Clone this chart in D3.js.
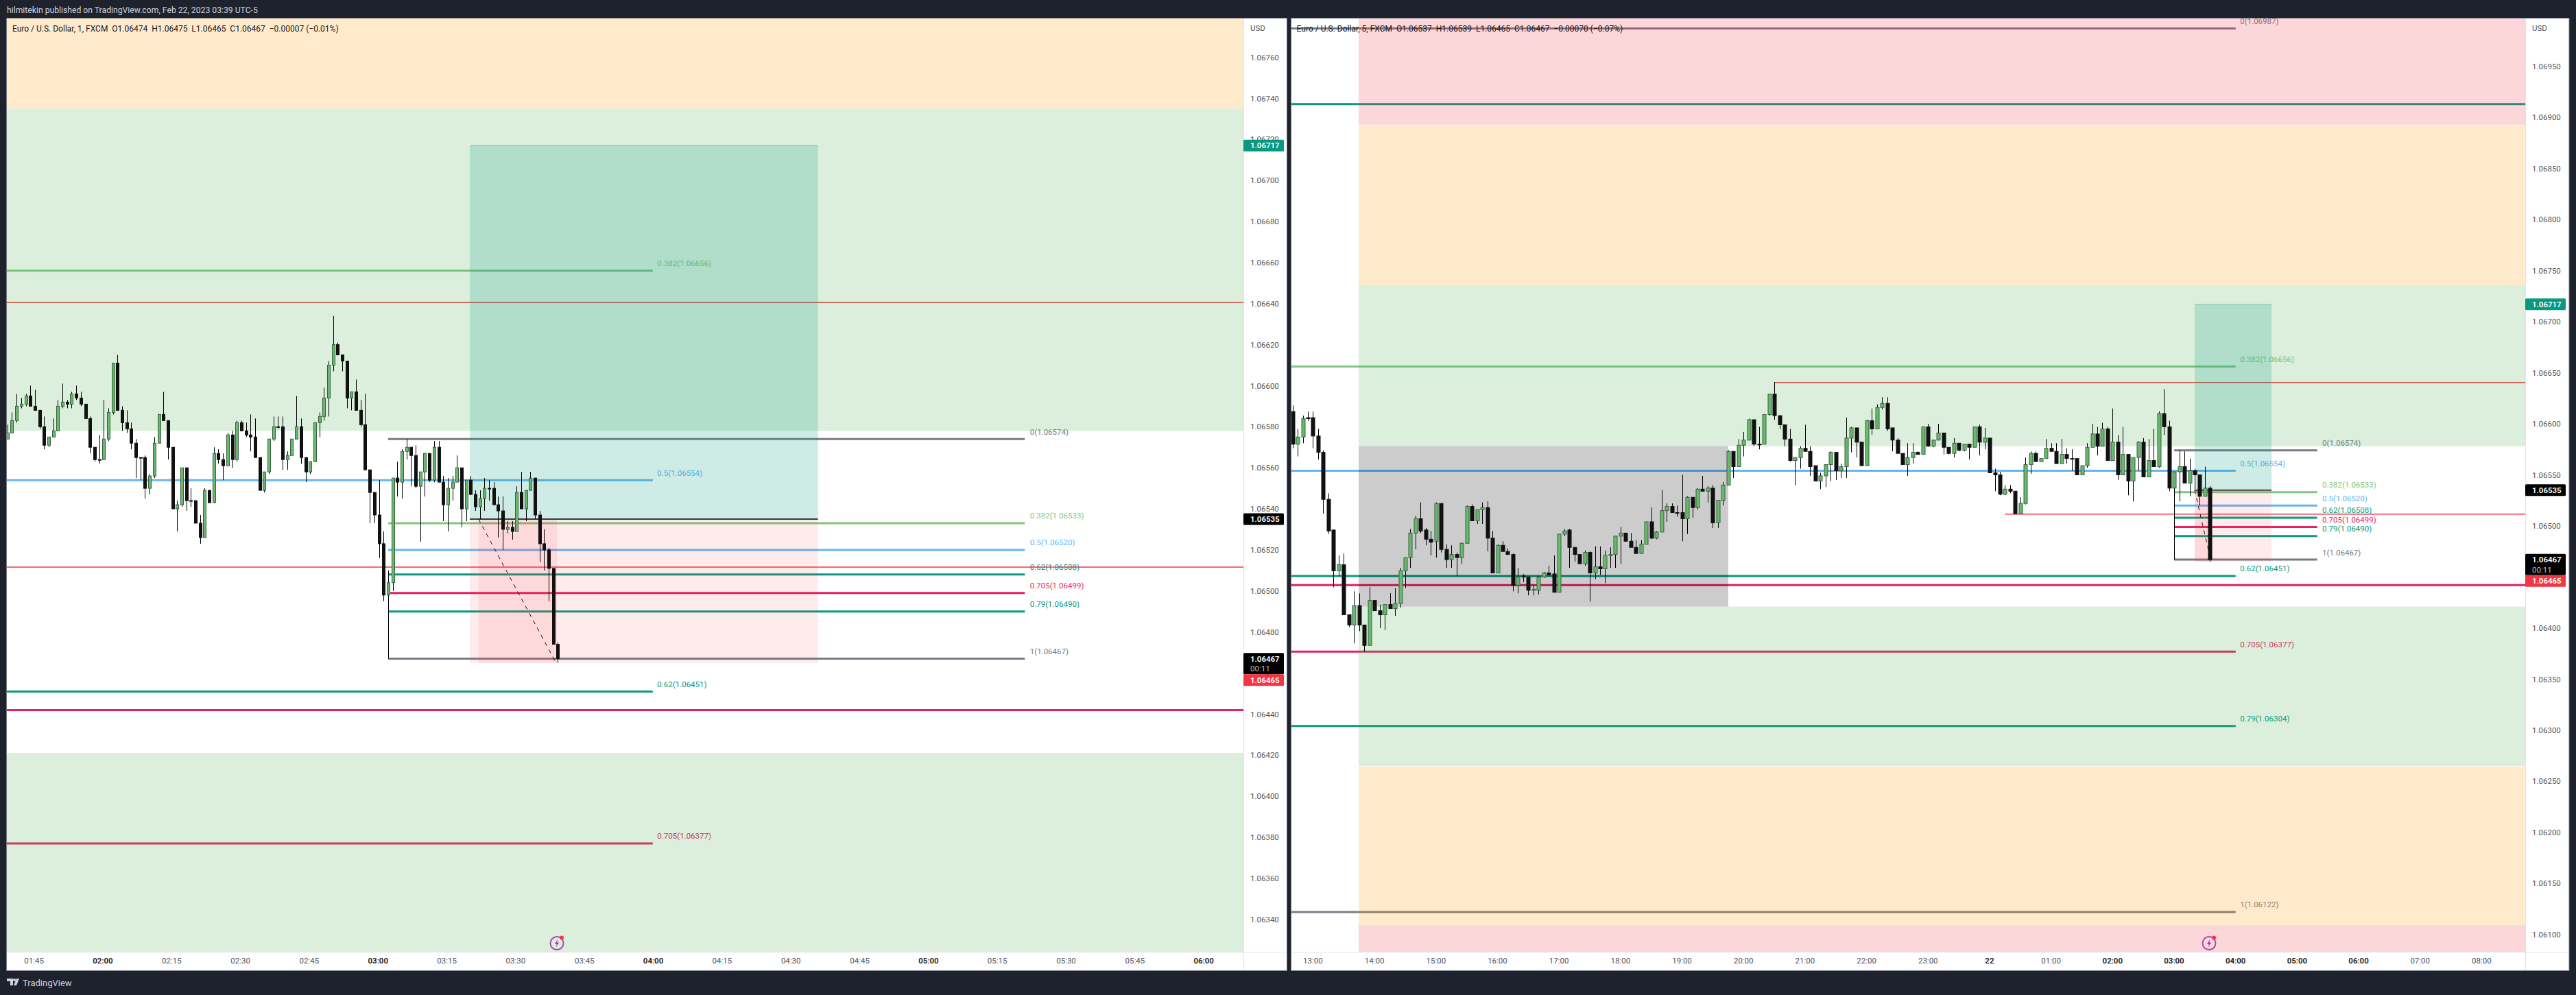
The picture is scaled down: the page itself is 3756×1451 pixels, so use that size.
<!DOCTYPE html>
<html><head><meta charset="utf-8">
<script src="https://cdn.jsdelivr.net/npm/d3@7"></script>
<style>html,body{margin:0;padding:0;background:#1e222d}svg{display:block}</style>
</head><body><svg id="c" width="3756" height="1451"></svg>
<script>
// Prices are stored as 1/100000 above 1.06000
const leftOpen=[574,577,583,590,591,595,590,588,580,571,575,578,590,592,591,596,594,591,584,570,564,564,574,587,611,588,582,579,572,565,565,550,556,572,586,583,570,540,542,560,544,544,533,526,549,543,567,564,561,576,564,582,578,576,575,565,549,558,574,580,580,564,566,574,580,565,558,563,582,585,594,610,620,615,612,594,597,588,581,559,548,537,523,498,504,555,553,568,570,566,551,558,567,554,570,553,542,550,553,560,540,554,547,541,545,550,550,542,539,530,531,529,548,540,549,555,537,523,520,511,474];
const leftHigh=[581,587,596,594,596,600,598,588,585,575,584,593,601,593,597,600,597,591,585,570,576,593,589,611,615,590,588,582,574,565,566,557,575,586,597,583,570,544,560,560,550,544,537,550,549,570,569,567,577,578,583,583,582,586,584,565,558,574,585,585,585,568,574,595,584,565,563,582,587,599,612,634,621,615,612,597,603,593,596,559,548,554,529,510,555,563,569,574,570,571,558,567,567,573,573,556,555,556,566,560,554,556,549,549,555,554,553,546,546,534,534,551,558,549,558,555,539,530,521,511,475];
const leftLow=[574,577,582,589,590,590,588,579,569,570,575,578,589,589,589,593,590,584,567,563,562,564,573,586,588,578,577,569,555,554,545,547,555,572,583,564,540,529,541,539,541,533,523,526,543,543,562,554,561,560,563,578,575,568,565,549,548,557,573,579,559,559,566,574,562,553,557,563,575,583,585,607,615,607,589,588,588,580,559,533,533,516,495,467,500,546,545,564,551,550,524,546,553,553,553,534,529,544,553,531,534,547,539,535,539,544,542,526,520,528,525,529,540,534,549,535,514,510,495,474,465];
const leftClose=[577,583,590,591,595,590,588,580,571,575,578,590,592,591,596,594,591,584,570,564,564,574,587,611,588,582,579,572,565,565,550,556,572,586,583,570,540,542,560,544,544,533,526,549,543,567,564,561,576,564,582,578,576,575,565,549,558,574,580,580,564,566,574,580,565,558,563,582,585,594,610,620,615,612,594,597,588,581,559,548,537,523,498,504,555,553,568,570,566,551,558,567,554,570,553,542,550,553,560,540,554,547,541,545,550,550,542,539,530,531,529,548,540,549,555,537,523,520,511,474,467];

const rightOpen=[612,580,587,606,606,588,572,526,496,456,462,413,403,422,403,383,427,417,413,423,419,424,456,469,493,507,496,487,485,522,477,467,472,469,483,519,505,516,518,488,454,481,475,472,442,451,450,437,437,450,454,453,435,492,496,479,472,463,474,454,460,458,471,472,490,493,485,479,473,482,504,488,494,515,519,513,513,507,528,518,536,534,537,503,525,540,573,558,579,584,604,580,580,609,629,608,599,585,564,567,576,573,559,544,549,560,572,554,558,586,596,582,559,603,595,616,620,596,584,571,560,567,572,570,597,578,584,591,577,571,581,574,580,577,597,582,586,552,550,531,536,534,512,522,560,571,563,566,576,573,561,570,566,566,550,559,577,590,578,595,564,582,550,570,544,567,582,548,564,558,610,597,537,553,558,542,554,550,529,537];
const rightHigh=[618,595,608,612,612,595,574,532,496,471,473,413,436,434,403,440,427,423,423,434,439,459,469,497,510,523,498,495,523,522,482,481,474,484,520,521,516,523,524,495,482,485,478,473,459,453,450,442,451,455,461,471,492,497,497,479,472,476,475,480,480,476,479,490,499,493,493,486,486,504,518,495,535,522,522,520,550,529,528,537,549,539,540,525,543,574,573,585,592,605,604,597,609,629,641,608,599,595,567,578,599,578,559,552,560,573,572,561,606,597,596,582,604,615,619,626,626,596,586,571,581,581,573,597,600,584,600,591,577,586,581,580,580,597,599,596,586,556,553,540,540,534,528,567,573,573,566,585,581,581,585,576,575,566,559,581,600,597,601,597,615,589,597,570,567,583,586,585,595,612,634,603,553,574,573,566,556,550,558,539];
const rightLow=[576,568,581,603,576,565,512,492,440,451,413,401,385,397,377,383,417,400,398,419,412,420,439,459,477,493,481,471,469,474,459,459,451,463,483,505,502,502,475,454,454,475,472,436,434,445,432,432,433,449,452,435,435,490,459,465,463,461,426,448,452,444,459,459,463,485,479,473,473,482,487,487,494,504,513,509,485,492,508,516,534,523,498,498,520,540,547,558,568,584,578,575,580,608,604,595,578,563,540,556,573,549,544,536,538,544,545,547,547,572,567,559,559,589,595,614,593,573,571,560,549,561,570,570,578,577,584,570,570,567,573,573,565,577,569,575,552,534,530,530,532,512,512,521,551,563,563,566,573,561,561,561,554,550,550,557,577,569,578,564,564,545,550,530,524,554,548,548,558,557,589,534,467,524,542,529,536,520,529,465];
const rightClose=[580,587,605,605,588,572,526,495,456,462,413,403,422,403,383,427,417,413,423,419,424,456,469,493,507,495,487,484,522,477,467,472,469,483,519,505,516,518,488,454,481,475,472,442,450,450,437,438,450,454,452,435,492,495,479,472,463,474,454,460,458,471,472,490,493,485,479,473,482,504,488,494,515,519,513,513,507,528,518,536,534,537,503,525,540,573,558,579,584,604,580,580,609,629,608,599,585,564,567,576,573,558,544,549,560,572,554,558,586,596,582,559,603,595,616,620,595,584,571,560,567,572,570,597,578,584,591,577,571,581,574,580,577,597,582,586,552,550,531,536,534,512,522,560,571,563,566,576,573,561,570,566,566,550,559,577,590,578,595,564,582,550,570,544,567,582,548,564,558,610,597,537,553,558,542,554,550,529,537,467];

const leftPriceTicks=d3.range(340,761,20);
const rightPriceTicks=d3.range(100,951,50);
const leftTimeLabels=["01:45","02:00","02:15","02:30","02:45","03:00","03:15","03:30","03:45","04:00","04:15","04:30","04:45","05:00","05:15","05:30","05:45","06:00"];
const rightTimeLabels=["13:00","14:00","15:00","16:00","17:00","18:00","19:00","20:00","21:00","22:00","23:00","22","01:00","02:00","03:00","04:00","05:00","06:00","07:00","08:00"];
const boldTimes=["02:00","03:00","04:00","05:00","06:00","22"];

const zoneHigh=[1100,892,735,421,264.5,109];
const zoneLow=[892.6,735,578,265,109,0];
const zoneKind=["pink","orange","green","green","orange","pink"];

const weeklyFibPrices=[987,656,554,451,377,304,122];
const weeklyFibLabels=["0(1.06987)","0.382(1.06656)","0.5(1.06554)","0.62(1.06451)","0.705(1.06377)","0.79(1.06304)","1(1.06122)"];
const weeklyFibKinds=["grey","green","blue","teal","pink","teal","grey"];
const dailyFibPrices=[574,533,520,508,499,490,467];
const dailyFibLabels=["0(1.06574)","0.382(1.06533)","0.5(1.06520)","0.62(1.06508)","0.705(1.06499)","0.79(1.06490)","1(1.06467)"];
const dailyFibKinds=["grey","green","blue","teal","pink","teal","grey"];
const positionTarget=717, positionEntry=535, positionStop=465;
const pinkLevel=442, tealLevel=913, redHigh=640.5, redLow=511.6;
const grayBoxHigh=578, grayBoxLow=421;

const kindColor={grey:"#787b86",green:"#81c784",blue:"#64b5f6",teal:"#089981",pink:"#e91e63"};
const zoneColor={pink:"rgba(242,54,69,.2)",orange:"rgba(255,152,0,.2)",green:"rgba(76,175,80,.2)"};
const FONT="Roboto, sans-serif";

const px=n=>1.06+n/1e5;
const svg=d3.select("#c").attr("font-family",FONT);
svg.append("rect").attr("width",3756).attr("height",1451).attr("fill","#1e222d");

let clipId=0;
function pane(o){
  const g=svg.append("g");
  const W=o.plotR-o.plotL;
  // pane frame
  g.append("rect").attr("x",o.plotL-.5).attr("y",26.5).attr("width",o.outerR-o.plotL+1).attr("height",1389)
    .attr("fill","#fff").attr("stroke","#787b86").attr("stroke-width",1);
  const y=d3.scaleLinear().domain(o.yDomain).range(o.yRange);
  const x=d3.scaleLinear().domain([0,o.n-1]).range(o.xRange);
  const id="clip"+(clipId++);
  g.append("clipPath").attr("id",id).append("rect").attr("x",o.plotL).attr("y",27).attr("width",W).attr("height",1361);
  const p=g.append("g").attr("clip-path",`url(#${id})`);
  const Y=n=>y(px(n));

  // horizontal levels, their labels sit under the translucent zones
  const lines=p.append("g");
  const seg=(n,a,b,c,w)=>lines.append("line").attr("x1",a).attr("x2",b).attr("y1",Y(n)).attr("y2",Y(n)).attr("stroke",c).attr("stroke-width",w);
  const label=(t,xx,n,c)=>{
    const ty=Y(n)-10.6;
    if(ty<24||ty>1384) return;
    lines.append("text").text(t).attr("x",xx).attr("y",ty).attr("dy",".35em").attr("font-size",11.5).attr("fill",c);
  };
  weeklyFibPrices.forEach((n,i)=>{
    const c=kindColor[weeklyFibKinds[i]];
    if(Y(n)<27||Y(n)>1388) return;
    seg(n,o.plotL,x(o.weeklyEnd),c,3);
    label(weeklyFibLabels[i],x(o.weeklyEnd)+6.5,n,c);
  });
  dailyFibPrices.forEach((n,i)=>{
    const c=kindColor[dailyFibKinds[i]];
    seg(n,x(o.dailyStart),x(o.dailyEnd),c,3);
    label(dailyFibLabels[i],x(o.dailyEnd)+7.5,n,c);
  });
  seg(pinkLevel,o.plotL,o.plotR,kindColor.pink,3);
  seg(tealLevel,o.plotL,o.plotR,kindColor.teal,3);
  seg(redHigh,o.redHighStart==null?o.plotL:x(o.redHighStart),o.plotR,"#f23645",1.5);
  seg(redLow,o.redLowStart==null?o.plotL:x(o.redLowStart),o.plotR,"#f23645",1.5);

  // zones
  const zl=o.zoneStart==null?o.plotL:x(o.zoneStart);
  p.append("g").selectAll("rect").data(zoneHigh).join("rect")
    .attr("x",zl).attr("width",o.plotR-zl)
    .attr("y",d=>Y(d)).attr("height",(d,i)=>Y(zoneLow[i])-Y(d))
    .attr("fill",(d,i)=>zoneColor[zoneKind[i]]);

  if(o.grayBox){
    p.append("rect").attr("x",x(o.grayBox[0])).attr("width",x(o.grayBox[1])-x(o.grayBox[0]))
      .attr("y",Y(grayBoxHigh)).attr("height",Y(grayBoxLow)-Y(grayBoxHigh)).attr("fill","rgba(0,0,0,.2)");
  }

  // long position tool
  const [b0,bd,be,b1]=o.box;
  const rr=(a,b,t,u,f)=>p.append("rect").attr("x",x(a)).attr("width",x(b)-x(a)).attr("y",Y(t)).attr("height",Y(u)-Y(t)).attr("fill",f);
  rr(b0,b1,positionTarget,positionEntry,"rgba(8,153,129,.2)");
  rr(b0,b1,positionEntry,positionStop,"rgba(242,54,69,.1)");
  rr(bd,o.boxDarkEnd,positionEntry,positionStop,"rgba(242,54,69,.1)");
  p.append("line").attr("x1",x(b0)).attr("x2",x(b1)).attr("y1",Y(positionTarget)).attr("y2",Y(positionTarget)).attr("stroke","rgba(8,153,129,.35)");
  p.append("line").attr("x1",x(b0)).attr("x2",x(b1)).attr("y1",Y(positionEntry)).attr("y2",Y(positionEntry)).attr("stroke","#000").attr("stroke-width",1.5);

  // candles
  const cg=p.append("g");
  const bars=d3.range(o.n);
  const cx=i=>Math.round(x(i))+.5;
  cg.selectAll("line").data(bars).join("line")
    .attr("x1",cx).attr("x2",cx).attr("y1",i=>Y(o.high[i])).attr("y2",i=>Y(o.low[i])).attr("stroke","#000").attr("stroke-width",1);
  cg.selectAll("rect").data(bars).join("rect")
    .attr("x",i=>cx(i)-o.bodyW/2).attr("width",o.bodyW)
    .attr("y",i=>Y(Math.max(o.open[i],o.close[i]))).attr("height",i=>Math.max(1,Math.abs(Y(o.open[i])-Y(o.close[i]))))
    .attr("fill",i=>o.close[i]>o.open[i]?"#66bb6a":"#111")
    .attr("stroke",i=>o.close[i]>o.open[i]?"#3c5f44":"#111").attr("stroke-width",1);
  // dashed path
  p.append("line").attr("x1",x(bd)).attr("x2",x(o.boxDarkEnd-.2)).attr("y1",Y(positionEntry)).attr("y2",Y(positionStop))
    .attr("stroke","#111").attr("stroke-width",1).attr("stroke-dasharray","6 6");

  // lightning marker
  const ic=p.append("g").attr("transform",`translate(${o.iconX},1375.5)`);
  ic.append("circle").attr("r",9.5).attr("fill","none").attr("stroke","#ab47bc").attr("stroke-width",2);
  ic.append("path").attr("d",d3.line()([[1.5,-6],[-3,1],[0,1],[-1.5,6],[3,-1],[0,-1],[1.5,-6]])).attr("fill","#9c27b0");
  ic.append("circle").attr("cx",7).attr("cy",-8).attr("r",3).attr("fill","#f23645");

  // axis panel
  g.append("line").attr("x1",o.plotR+.5).attr("x2",o.plotR+.5).attr("y1",27).attr("y2",1415).attr("stroke","#e0e3eb");
  g.append("line").attr("x1",o.plotL).attr("x2",o.outerR).attr("y1",1388.5).attr("y2",1388.5).attr("stroke","#e0e3eb");

  const ay=g.append("g").attr("transform",`translate(${o.plotR+10},0)`)
    .call(d3.axisRight(y).tickValues(o.priceTicks.map(px)).tickSize(0).tickPadding(0).tickFormat(d3.format(".5f")));
  ay.select(".domain").remove();
  ay.selectAll("text").attr("font-family",FONT).attr("font-size",11.5).attr("fill","#50535e").attr("x",0);
  g.append("text").text("USD").attr("x",o.plotR+10).attr("y",40.7).attr("dy",".35em").attr("font-size",11.5).attr("fill","#50535e");

  const tx=d3.scaleLinear().domain(x.domain()).range(x.range().map(v=>v+o.tickShift));
  const ax=g.append("g").attr("transform","translate(0,1401.3)")
    .call(d3.axisBottom(tx).tickValues(o.timeTicks).tickSize(0).tickPadding(0).tickFormat((d,i)=>o.timeLabels[i]));
  ax.select(".domain").remove();
  ax.selectAll("text").attr("font-family",FONT).attr("font-size",11.5).attr("y",0).attr("dy",".35em")
    .attr("fill",function(){return boldTimes.includes(this.textContent)?"#131722":"#50535e"})
    .attr("font-weight",function(){return boldTimes.includes(this.textContent)?600:400});

  // price badges
  const bx=o.plotR, bw=59;
  const badge=(top,h,f,lines_)=>{
    g.append("rect").attr("x",bx).attr("y",top).attr("width",bw).attr("height",h).attr("rx",1.5).attr("fill",f);
    lines_.forEach(l=>g.append("text").text(l[0]).attr("x",o.plotR+10).attr("y",top+l[1]).attr("dy",".35em")
      .attr("font-size",11.5).attr("font-weight",l[2]).attr("fill",l[3]));
  };
  badge(Y(positionTarget)-8.5,17,"#089981",[["1.06717",8.5,600,"#fff"]]);
  badge(Y(positionEntry)-8.5,17,"#000",[["1.06535",8.5,600,"#fff"]]);
  badge(Y(467)-8.3,31,"#000",[["1.06467",8.3,600,"#fff"],["00:11",23,400,"#bdbdbd"]]);
  badge(Y(467)-8.3+31,17,"#f23645",[["1.06465",8.5,600,"#fff"]]);

  // legend
  g.append("text").attr("x",o.legendX).attr("y",42).attr("dy",".35em").attr("font-size",12).attr("fill","#131722")
    .attr("xml:space","preserve").style("white-space","pre").text(o.legend);
}

pane({n:121,open:leftOpen,high:leftHigh,low:leftLow,close:leftClose,
  plotL:10,plotR:1813,outerR:1876,
  yDomain:[px(760),px(340)],yRange:[83.5,1340.7],
  xRange:[10.8,813.4],bodyW:4,
  priceTicks:leftPriceTicks,timeLabels:leftTimeLabels,timeTicks:leftTimeLabels.map((d,i)=>6+15*i),tickShift:-1.8,
  weeklyEnd:140.7,dailyStart:83,dailyEnd:221.8,
  box:[100.8,102.7,0,176.7],boxDarkEnd:119.8,iconX:812,legendX:18,
  legend:"Euro / U.S. Dollar, 1, FXCM  O1.06474  H1.06475  L1.06465  C1.06467  −0.00007 (−0.01%)"});

pane({n:180,open:rightOpen,high:rightHigh,low:rightLow,close:rightClose,
  plotL:1883,plotR:3682,outerR:3745.5,
  yDomain:[px(950),px(100)],yRange:[96.7,1362.7],
  xRange:[1884.6,3222.4],bodyW:5,
  priceTicks:rightPriceTicks,timeLabels:rightTimeLabels,timeTicks:rightTimeLabels.map((d,i)=>4+12*i),tickShift:-.6,
  weeklyEnd:184,dailyStart:172,dailyEnd:199.9,redHighStart:94,redLowStart:139,
  zoneStart:12.9,grayBox:[12.9,85],
  box:[176,176,0,191],boxDarkEnd:179.4,iconX:3221,legendX:1890.6,
  legend:"Euro / U.S. Dollar, 5, FXCM  O1.06537  H1.06539  L1.06465  C1.06467  −0.00070 (−0.07%)"});

// header and footer
svg.append("text").text("hilmitekin published on TradingView.com, Feb 22, 2023 03:39 UTC-5").attr("x",10).attr("y",15).attr("dy",".35em").attr("font-size",12.2).attr("fill","#d1d4dc");
const logo=svg.append("g").attr("fill","#d1d4dc");
logo.append("path").attr("d","M10 1427h9v10h-4v-6h-5zM20 1437l4 -10h4l-4 10zM21 1427a2 2 0 1 0 .1 0z");
svg.append("text").text("TradingView").attr("x",33).attr("y",1433).attr("dy",".35em").attr("font-size",13).attr("fill","#d1d4dc");
</script></body></html>
